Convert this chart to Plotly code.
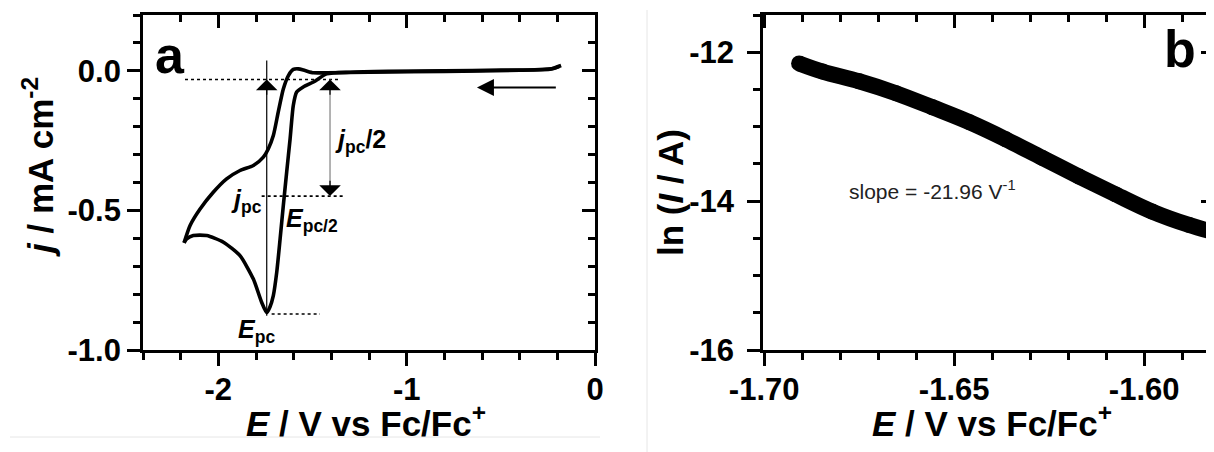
import plotly.graph_objects as go

FONT = "Liberation Sans, Arial, sans-serif"

# ---------------- Panel a: cyclic voltammogram ----------------
# cathodic (forward) scan, from right to left
E_fwd = [-0.18, -0.24, -0.50, -0.80, -1.10, -1.30, -1.425, -1.495, -1.549, -1.584,
         -1.602, -1.619, -1.637, -1.655, -1.672, -1.690, -1.708, -1.726, -1.743,
         -1.770, -1.814, -1.885, -1.973, -2.062, -2.133, -2.168, -2.182]
j_fwd = [0.019, 0.006, 0.003, 0.000, -0.002, -0.005, -0.011, -0.040, -0.058, -0.076,
         -0.124, -0.244, -0.362, -0.483, -0.602, -0.722, -0.805, -0.846, -0.866,
         -0.829, -0.746, -0.662, -0.614, -0.590, -0.590, -0.602, -0.616]
# return (anodic) scan, from left to right
E_ret = [-2.182, -2.150, -2.097, -2.027, -1.956, -1.885, -1.814, -1.761, -1.735,
         -1.708, -1.682, -1.655, -1.628, -1.602, -1.575, -1.540, -1.495, -1.425,
         -1.20, -0.80, -0.40, -0.22, -0.19]
j_ret = [-0.616, -0.554, -0.495, -0.435, -0.387, -0.357, -0.339, -0.309, -0.280,
         -0.232, -0.148, -0.065, -0.017, 0.005, 0.007, 0.001, -0.007, -0.007,
         -0.005, -0.002, 0.002, 0.008, 0.016]

# characteristic values
E_pc = -1.743       # peak potential
j_pc = -0.866       # peak current density
j_base = -0.031     # baseline current
j_half = (j_pc + j_base) / 2
E_half_arrow = -1.407
j_top = 0.037

# dotted guide extents
guide_top_E = [-2.177, -1.354]
guide_mid_E = [-1.770, -1.333]
guide_bot_E = [-1.717, -1.460]

# scan direction arrow
scan_arrow_E = [-0.20, -0.627]
scan_arrow_j = -0.06

# axis ticks panel a
xa_ticks = [-2, -1, 0]
xa_labels = ["-2", "-1", "0"]
ya_ticks = [0.0, -0.5, -1.0]
ya_labels = ["0.0", "-0.5", "-1.0"]

# ---------------- Panel b: Tafel-type plot ----------------
E_b = [-1.6908, -1.6846, -1.6750, -1.6653, -1.6557, -1.6460, -1.6364, -1.6268,
       -1.6171, -1.6075, -1.5979, -1.5882, -1.5800]
lnI_b = [-12.15, -12.26, -12.39, -12.55, -12.74, -12.94, -13.17, -13.42,
         -13.67, -13.91, -14.14, -14.32, -14.44]
slope_text = "slope = -21.96 V<sup>-1</sup>"

xb_ticks = [-1.70, -1.65, -1.60]
xb_labels = ["-1.70", "-1.65", "-1.60"]
yb_ticks = [-12, -14, -16]
yb_labels = ["-12", "-14", "-16"]

# page body has an 8 px margin: the figure is sized/offset so that it fills the window
VIEW_W, VIEW_H = 1214, 452
OFF = 8
W, H = VIEW_W - OFF, VIEW_H - OFF


def px_x(p):
    return (p - OFF) / W


def px_y(p):
    return 1 - (p - OFF) / H


xa_dom = [px_x(143), px_x(595)]
xb_dom = [px_x(763), 1.0]
y_dom = [px_y(350), px_y(15)]
xa_range = [-2.4, 0.0]
ya_range = [-1.0, 0.2]
xb_range = [-1.7003, -1.7003 + (VIEW_W - 763) / 190 * 0.05]
yb_range = [-16.0, -11.5]

fig = go.Figure()

# CV curves
fig.add_trace(go.Scatter(x=E_fwd, y=j_fwd, mode="lines", line=dict(color="black", width=3.6, shape="spline", smoothing=0.6),
                         xaxis="x", yaxis="y", showlegend=False, hoverinfo="skip"))
fig.add_trace(go.Scatter(x=E_ret, y=j_ret, mode="lines", line=dict(color="black", width=3.6, shape="spline", smoothing=0.6),
                         xaxis="x", yaxis="y", showlegend=False, hoverinfo="skip"))

# dotted guides
for ex, jy in [(guide_top_E, j_base), (guide_mid_E, j_half), (guide_bot_E, j_pc - 0.005)]:
    fig.add_trace(go.Scatter(x=ex, y=[jy, jy], mode="lines", line=dict(color="black", width=1.7, dash="dot"),
                             xaxis="x", yaxis="y", showlegend=False, hoverinfo="skip"))

# vertical j_pc line
fig.add_trace(go.Scatter(x=[E_pc, E_pc], y=[j_pc - 0.011, j_top], mode="lines", line=dict(color="black", width=1.2),
                         xaxis="x", yaxis="y", showlegend=False, hoverinfo="skip"))
# vertical j_pc/2 line
fig.add_trace(go.Scatter(x=[E_half_arrow, E_half_arrow], y=[j_base, j_half], mode="lines", line=dict(color="#8a8a8a", width=1.3),
                         xaxis="x", yaxis="y", showlegend=False, hoverinfo="skip"))

# panel b curve
fig.add_trace(go.Scatter(x=E_b, y=lnI_b, mode="lines+markers", line=dict(color="black", width=16, shape="spline"),
                         marker=dict(color="black", size=16), xaxis="x2", yaxis="y2", showlegend=False, hoverinfo="skip"))

# empty traces for mirrored (inside-tick) axes
fig.add_trace(go.Scatter(x=[], y=[], xaxis="x3", yaxis="y3", showlegend=False))
fig.add_trace(go.Scatter(x=[], y=[], xaxis="x4", yaxis="y4", showlegend=False))

tickfont = dict(family=FONT, size=31, color="black", weight="bold")


def main_axis(**kw):
    d = dict(showline=True, linewidth=2.7, linecolor="black", ticks="outside", ticklen=13, tickwidth=2.5,
             tickcolor="black", showgrid=False, zeroline=False, tickfont=tickfont, automargin=False)
    d.update(kw)
    return d


def mirror_axis(**kw):
    d = dict(showline=True, linewidth=2.7, linecolor="black", ticks="inside", ticklen=13, tickwidth=2.5,
             tickcolor="black", showgrid=False, zeroline=False, showticklabels=False, automargin=False)
    d.update(kw)
    return d


def minor(dt, inside=False):
    return dict(ticks="inside" if inside else "outside", ticklen=7, tickwidth=2.5, tickcolor="black", dtick=dt, showgrid=False)


fig.update_layout(
    width=W, height=H, margin=dict(l=0, r=0, t=0, b=0, pad=0, autoexpand=False),
    paper_bgcolor="white", plot_bgcolor="white",
    xaxis=main_axis(domain=xa_dom, range=xa_range, anchor="y", tickvals=xa_ticks, ticktext=xa_labels,
                    minor=minor(0.2), ticklabelstandoff=-3),
    yaxis=main_axis(domain=y_dom, range=ya_range, anchor="x", tickvals=ya_ticks, ticktext=ya_labels,
                    minor=minor(0.1)),
    xaxis3=mirror_axis(overlaying="x", side="top", anchor="y3", range=xa_range, tickvals=xa_ticks,
                       minor=minor(0.2, True)),
    yaxis3=mirror_axis(overlaying="y", side="right", anchor="x3", range=ya_range, tickvals=ya_ticks,
                       minor=minor(0.1, True)),
    xaxis2=main_axis(domain=xb_dom, range=xb_range, anchor="y2", tickvals=xb_ticks, ticktext=xb_labels,
                     minor=minor(0.01), ticklabelstandoff=-3),
    yaxis2=main_axis(domain=y_dom, range=yb_range, anchor="x2", tickvals=yb_ticks, ticktext=yb_labels,
                     minor=minor(0.5), ticklabelstandoff=7),
    xaxis4=mirror_axis(overlaying="x2", side="top", anchor="y4", range=xb_range, tickvals=xb_ticks,
                       minor=minor(0.01, True)),
    yaxis4=mirror_axis(overlaying="y2", side="right", anchor="x4", range=yb_range, tickvals=yb_ticks,
                       minor=minor(0.5, True)),
)

ann = []
title_font = dict(family=FONT, size=35, color="black")
# axis titles
ann.append(dict(text="<b><i>E</i> / V vs Fc/Fc<sup>+</sup></b>", x=px_x(366), y=px_y(421), xref="paper", yref="paper",
                showarrow=False, font=title_font, xanchor="center", yanchor="middle"))
ann.append(dict(text="<b><i>E</i> / V vs Fc/Fc<sup>+</sup></b>", x=px_x(992), y=px_y(421), xref="paper", yref="paper",
                showarrow=False, font=title_font, xanchor="center", yanchor="middle"))
ann.append(dict(text="<b><i>j</i> / mA cm<sup>-2</sup></b>", x=px_x(38), y=px_y(167), xref="paper", yref="paper",
                showarrow=False, font=title_font, textangle=-90, xanchor="center", yanchor="middle"))
ann.append(dict(text="<b>ln (<i>I</i> / A)</b>", x=px_x(670), y=px_y(193), xref="paper", yref="paper",
                showarrow=False, font=title_font, textangle=-90, xanchor="center", yanchor="middle"))

lab_font = dict(family=FONT, size=25, color="black")
ann.append(dict(text="<b><i>j</i><sub>pc</sub></b>", x=-1.850, y=-0.466, xref="x", yref="y", showarrow=False, font=lab_font))
ann.append(dict(text="<b><i>E</i><sub>pc/2</sub></b>", x=-1.5025, y=-0.534, xref="x", yref="y", showarrow=False, font=lab_font))
ann.append(dict(text="<b><i>j</i><sub>pc</sub>/2</b>", x=-1.2476, y=-0.253, xref="x", yref="y", showarrow=False, font=lab_font))
ann.append(dict(text="<b><i>E</i><sub>pc</sub></b>", x=-1.797, y=-0.932, xref="x", yref="y", showarrow=False, font=lab_font))

big_font = dict(family=FONT, size=52, color="black")
ann.append(dict(text="<b>a</b>", x=-2.257, y=0.055, xref="x", yref="y", showarrow=False, font=big_font))
ann.append(dict(text="<b>b</b>", x=-1.5905, y=-11.96, xref="x2", yref="y2", showarrow=False, font=big_font))

ann.append(dict(text=slope_text, x=-1.6556, y=-13.85, xref="x2", yref="y2", showarrow=False,
                font=dict(family=FONT, size=21, color="#222222")))

# arrowheads
ann.append(dict(text="", x=E_pc, y=j_base, ax=E_pc, ay=j_base - 0.06, xref="x", yref="y", axref="x", ayref="y",
                showarrow=True, arrowhead=1, arrowwidth=1.2, arrowsize=3.0, arrowcolor="black"))
ann.append(dict(text="", x=E_half_arrow, y=j_base, ax=E_half_arrow, ay=j_base - 0.06, xref="x", yref="y", axref="x", ayref="y",
                showarrow=True, arrowhead=1, arrowwidth=1.2, arrowsize=3.0, arrowcolor="black"))
ann.append(dict(text="", x=E_half_arrow, y=j_half, ax=E_half_arrow, ay=j_half + 0.06, xref="x", yref="y", axref="x", ayref="y",
                showarrow=True, arrowhead=1, arrowwidth=1.2, arrowsize=3.0, arrowcolor="black"))
ann.append(dict(text="", x=scan_arrow_E[1], y=scan_arrow_j, ax=scan_arrow_E[0], ay=scan_arrow_j, xref="x", yref="y",
                axref="x", ayref="y", showarrow=True, arrowhead=2, arrowwidth=2, arrowsize=1.7, arrowcolor="black"))

fig.update_layout(annotations=ann)

# faint panel separators
fig.update_layout(shapes=[
    dict(type="line", xref="paper", yref="paper", x0=px_x(647), x1=px_x(647), y0=px_y(10), y1=px_y(452),
         line=dict(color="#e6e6e6", width=1)),
    dict(type="line", xref="paper", yref="paper", x0=px_x(10), x1=px_x(600), y0=px_y(437), y1=px_y(437),
         line=dict(color="#e6e6e6", width=1)),
])

fig.write_html("out.html")
